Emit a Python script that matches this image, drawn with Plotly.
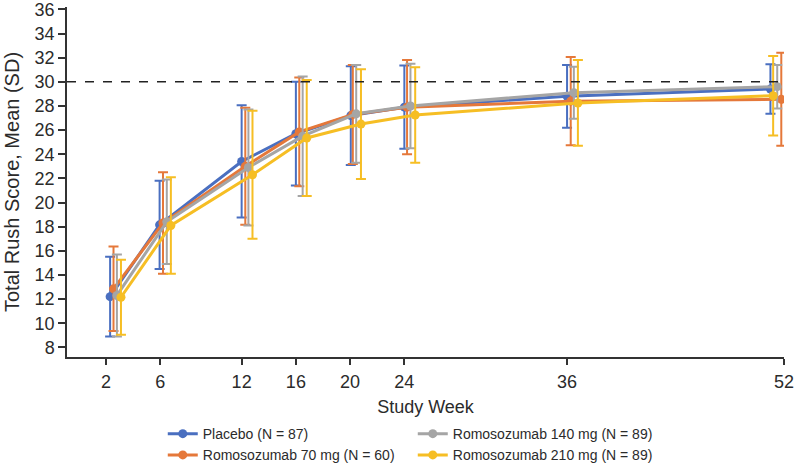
import plotly.graph_objects as go

weeks = [2, 6, 12, 16, 20, 24, 36, 52]

names = ["Placebo (N = 87)", "Romosozumab 70 mg (N = 60)",
         "Romosozumab 140 mg (N = 89)", "Romosozumab 210 mg (N = 89)"]

placebo_mean = [12.2, 18.15, 23.4, 25.7, 27.2, 27.9, 28.8, 29.4]
placebo_sd = [3.3, 3.65, 4.65, 4.3, 4.1, 3.45, 2.6, 2.05]

r70_mean = [12.85, 18.3, 23.0, 25.85, 27.3, 27.9, 28.4, 28.55]
r70_sd = [3.5, 4.2, 4.85, 4.5, 4.1, 3.9, 3.65, 3.85]

r140_mean = [12.3, 18.4, 22.9, 25.5, 27.35, 28.0, 29.1, 29.6]
r140_sd = [3.4, 3.5, 4.8, 4.95, 4.05, 3.5, 2.15, 1.8]

r210_mean = [12.15, 18.1, 22.3, 25.35, 26.5, 27.25, 28.25, 28.85]
r210_sd = [3.1, 4.0, 5.3, 4.8, 4.55, 3.95, 3.55, 3.3]

colors = ["#4A6FC0", "#E5783A", "#A5A5A5", "#F6BE24"]

# horizontal dodge (weeks) applied to each series so error bars don't overlap
dodge = [
    [0.3, -0.05, 0.0, 0.0, 0.05, 0.0, 0.0, -1.0],
    [0.55, 0.2, 0.27, 0.25, 0.2, 0.2, 0.27, -0.2],
    [0.8, 0.48, 0.5, 0.5, 0.45, 0.45, 0.5, -0.5],
    [1.1, 0.78, 0.8, 0.8, 0.8, 0.8, 0.8, -0.8],
]

means = [placebo_mean, r70_mean, r140_mean, r210_mean]
sds = [placebo_sd, r70_sd, r140_sd, r210_sd]
ranks = [1, 3, 2, 4]

FONT = "Liberation Sans, Arial, sans-serif"
TXT = "#2b2b2b"

fig = go.Figure()
for i in range(4):
    xs = [w + d for w, d in zip(weeks, dodge[i])]
    fig.add_trace(go.Scatter(
        x=xs, y=means[i], name=names[i], mode="lines+markers",
        line=dict(color=colors[i], width=3),
        marker=dict(color=colors[i], size=9),
        error_y=dict(type="data", array=sds[i], visible=True,
                     color=colors[i], thickness=2, width=5),
        legendrank=ranks[i],
    ))

fig.add_shape(type="line", xref="paper", x0=0, x1=1, yref="y", y0=30, y1=30,
              line=dict(color="#222222", width=1.5, dash="dash"))

fig.update_layout(
    width=794, height=463,
    margin=dict(l=67, r=10, t=7, b=106, autoexpand=False),
    plot_bgcolor="white", paper_bgcolor="white",
    font=dict(family=FONT, size=18, color=TXT),
    showlegend=True,
    legend=dict(orientation="h", xref="container", yref="container",
                x=0.205, xanchor="left", y=0.097, yanchor="top",
                entrywidth=205, entrywidthmode="pixels",
                font=dict(family=FONT, size=14, color=TXT),
                tracegroupgap=0, itemwidth=30),
    xaxis=dict(range=[-0.88, 52], tickvals=weeks, ticktext=[str(w) for w in weeks],
               showgrid=False, zeroline=False, showline=True, linecolor="#333333",
               linewidth=1.5, ticks="outside", ticklen=6, tickcolor="#333333",
               tickwidth=1.5, tickfont=dict(size=18), ticklabelstandoff=2,
               ticklabeloverflow="allow", automargin=False,
               title=dict(text="Study Week", font=dict(size=18), standoff=9)),
    yaxis=dict(range=[7.2, 36.2], tickvals=list(range(8, 37, 2)),
               showgrid=False, zeroline=False, showline=True, linecolor="#333333",
               linewidth=1.5, ticks="outside", ticklen=7, tickcolor="#333333",
               tickwidth=1.5, tickfont=dict(size=18), automargin=False,
               ticklabeloverflow="allow",
               title=dict(text="Total Rush Score, Mean (SD)", font=dict(size=20), standoff=10)),
)

fig.write_html("out.html", config={"displayModeBar": False},
               post_script="document.body.style.margin='0';")
